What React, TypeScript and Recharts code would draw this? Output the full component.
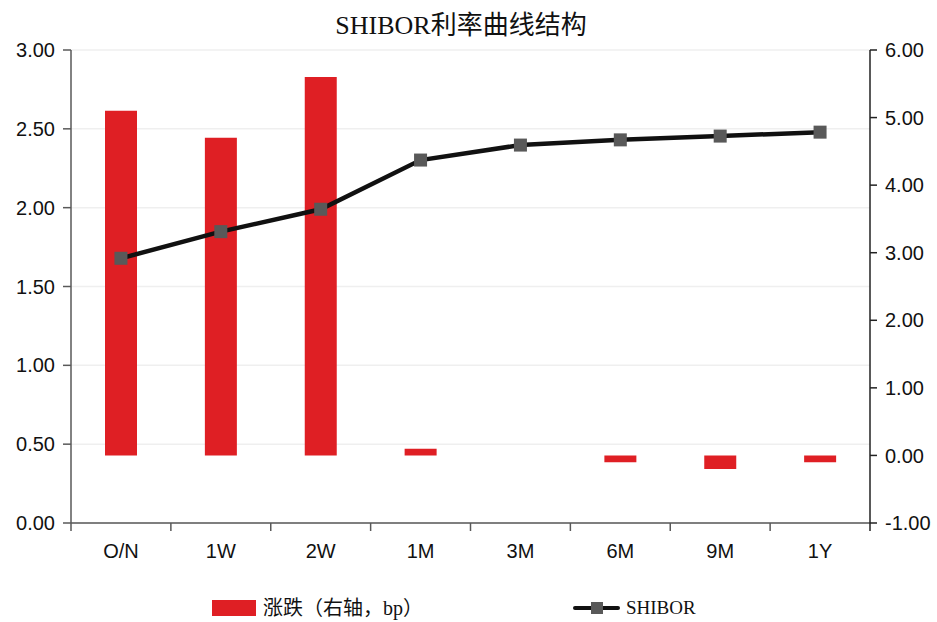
import { ComposedChart, Bar, Line, XAxis, YAxis, CartesianGrid } from 'recharts';

const tenors = ['O/N', '1W', '2W', '1M', '3M', '6M', '9M', '1Y'];
const shiborRates = [1.679, 1.848, 1.99, 2.302, 2.397, 2.43, 2.454, 2.479];
const changeBp = [5.1, 4.7, 5.6, 0.1, 0, -0.1, -0.2, -0.1];
const leftTicks = [0, 0.5, 1, 1.5, 2, 2.5, 3];
const rightTicks = [-1, 0, 1, 2, 3, 4, 5, 6];

const data = tenors.map((t, i) => ({ tenor: t, shibor: shiborRates[i], change: changeBp[i] }));

const W = 937;
const H = 622;
const LEFT_W = 71;
const RIGHT_W = 67;
const X_H = 99;
const plotBottom = H - X_H;
const band = (W - LEFT_W - RIGHT_W) / tenors.length;

const numFont = '"Liberation Sans", Arial, sans-serif';
const cnFont = '"Liberation Serif", "Noto Sans CJK SC", serif';

// category label plus the separator ticks between categories
const TenorTick = (props: any) => {
  const { x, payload, index } = props;
  return (
    <g>
      <line x1={x - band / 2} y1={plotBottom} x2={x - band / 2} y2={plotBottom + 8} stroke="#595959" strokeWidth={1.5} />
      {index === tenors.length - 1 && (
        <line x1={x + band / 2} y1={plotBottom} x2={x + band / 2} y2={plotBottom + 8} stroke="#222" strokeWidth={1.5} />
      )}
      <text x={x} y={plotBottom + 35} textAnchor="middle" fontSize={20} fontFamily={numFont} fill="#111">
        {payload.value}
      </text>
    </g>
  );
};

const SquareDot = (props: any) => {
  const { cx, cy, index } = props;
  return <rect key={`dot-${index}`} x={cx - 6.5} y={cy - 6.5} width={13} height={13} fill="#595959" />;
};

export default function App() {
  return (
    <div style={{ position: 'absolute', left: 0, top: 0, width: W, height: H, background: '#fff' }}>
      <div
        style={{
          position: 'absolute',
          left: 0,
          top: 6,
          width: 922,
          textAlign: 'center',
          fontFamily: cnFont,
          fontSize: 26,
          color: '#111',
          lineHeight: '40px',
        }}
      >
        SHIBOR利率曲线结构
      </div>
      <ComposedChart width={W} height={H} data={data} margin={{ top: 50, right: 0, bottom: 0, left: 0 }}>
        <CartesianGrid yAxisId="left" vertical={false} stroke="#efefef" strokeWidth={1.5} />
        <XAxis
          dataKey="tenor"
          height={X_H}
          axisLine={{ stroke: '#595959', strokeWidth: 1.5 }}
          tickLine={false}
          tick={<TenorTick />}
          interval={0}
        />
        <YAxis
          yAxisId="left"
          orientation="left"
          width={LEFT_W}
          domain={[0, 3]}
          ticks={leftTicks}
          interval={0}
          tickFormatter={(v: number) => v.toFixed(2)}
          axisLine={{ stroke: '#595959', strokeWidth: 1.5 }}
          tickLine={{ stroke: '#595959', strokeWidth: 1.5 }}
          tickSize={8}
          tickMargin={8}
          tick={{ fontSize: 20, fontFamily: numFont, fill: '#111' }}
        />
        <YAxis
          yAxisId="right"
          orientation="right"
          width={RIGHT_W}
          domain={[-1, 6]}
          ticks={rightTicks}
          interval={0}
          tickFormatter={(v: number) => v.toFixed(2)}
          axisLine={{ stroke: '#222', strokeWidth: 1.5 }}
          tickLine={{ stroke: '#222', strokeWidth: 1.5 }}
          tickSize={7}
          tickMargin={8}
          tick={{ fontSize: 20, fontFamily: numFont, fill: '#111' }}
        />
        <Bar yAxisId="right" dataKey="change" fill="#df1f24" barSize={32} isAnimationActive={false} />
        <Line
          yAxisId="left"
          type="linear"
          dataKey="shibor"
          stroke="#111"
          strokeWidth={4.5}
          dot={SquareDot}
          activeDot={false}
          isAnimationActive={false}
        />
      </ComposedChart>
      <div style={{ position: 'absolute', left: 212, top: 600, width: 44, height: 16, background: '#df1f24' }} />
      <div style={{ position: 'absolute', left: 263, top: 592, fontFamily: cnFont, fontSize: 20, lineHeight: '32px', color: '#111' }}>
        涨跌（右轴，bp）
      </div>
      <div style={{ position: 'absolute', left: 573, top: 606, width: 47, height: 4, borderRadius: 2, background: '#111' }} />
      <div style={{ position: 'absolute', left: 591, top: 602, width: 12, height: 12, background: '#595959' }} />
      <div style={{ position: 'absolute', left: 626, top: 592, fontFamily: cnFont, fontSize: 19, lineHeight: '32px', color: '#111' }}>
        SHIBOR
      </div>
    </div>
  );
}
